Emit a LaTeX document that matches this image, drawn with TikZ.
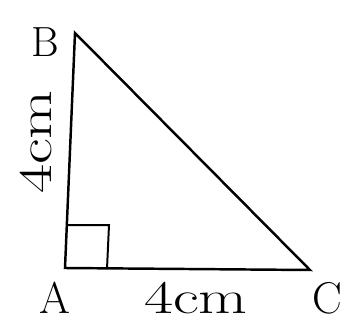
\documentclass[tikz,border=0pt]{standalone}
\usepackage{amsmath}
\usetikzlibrary{calc}

\begin{document}
\begin{tikzpicture}[x=0.03cm, y=-0.03cm, line width=2.1pt]
  \useasboundingbox (0,0) rectangle (354,325);
  \coordinate (A) at (65,268);
  \coordinate (B) at (75,33);
  \coordinate (C) at (310,270);
  \coordinate (P) at (68,225);
  \coordinate (Q) at (109,225);
  \coordinate (R) at (107,269);

  \draw (A)--(B)--(C)--cycle;
  \draw[line width=1.7pt] (P)--(Q)--(R);

  \node[font=\fontsize{36}{38}\selectfont] (labB) at (45,42) {B};
  \node[font=\fontsize{38}{40}\selectfont] (labA) at (55,298) {A};
  \node[font=\fontsize{38}{40}\selectfont] (labC) at (327,298) {C};
  \node[font=\fontsize{40}{42}\selectfont, rotate=90, xscale=1.35] (labAB) at (36,142) {4cm};
  \node[font=\fontsize{40}{42}\selectfont, xscale=1.35] (labAC) at (196,298) {4cm};
\end{tikzpicture}
\end{document}
